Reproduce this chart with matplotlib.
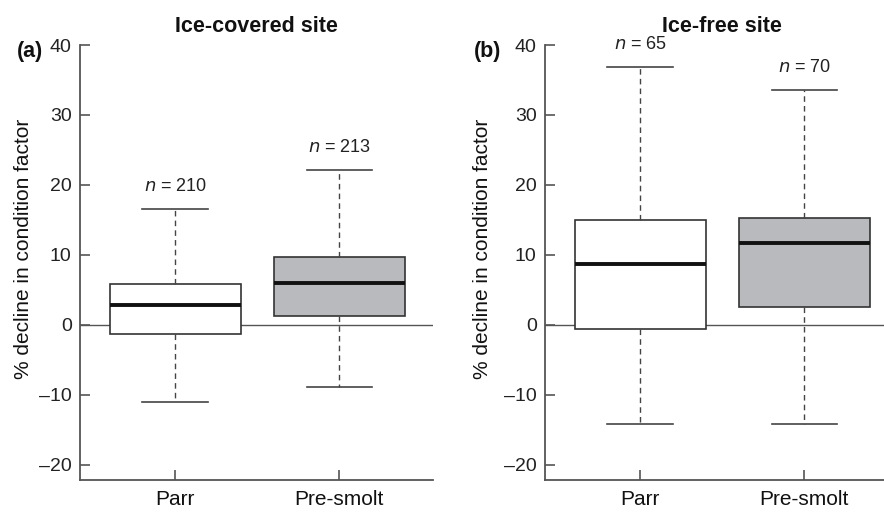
import matplotlib
matplotlib.use("Agg")
import matplotlib.pyplot as plt

plt.rcParams['font.family'] = ['Liberation Sans', 'DejaVu Sans']

categories = ["Parr", "Pre-smolt"]
panel_titles = ["Ice-covered site", "Ice-free site"]
panel_letters = ["(a)", "(b)"]

# Ice-covered site
ice_whislo = [-11.0, -8.8]
ice_q1 = [-1.3, 1.3]
ice_med = [2.8, 6.0]
ice_q3 = [5.9, 9.7]
ice_whishi = [16.5, 22.1]
ice_n = [210, 213]

# Ice-free site
free_whislo = [-14.2, -14.1]
free_q1 = [-0.6, 2.5]
free_med = [8.7, 11.7]
free_q3 = [15.0, 15.3]
free_whishi = [36.9, 33.5]
free_n = [65, 70]

yticks = [-20, -10, 0, 10, 20, 30, 40]
fills = ["white", "#b9babd"]

W, H = 884, 512
fig = plt.figure(figsize=(W / 100, H / 100), dpi=100)

panels = [
    (ice_whislo, ice_q1, ice_med, ice_q3, ice_whishi, ice_n),
    (free_whislo, free_q1, free_med, free_q3, free_whishi, free_n),
]
lefts = [80, 545]
ylab_x = [24, 483]
letter_x = [30, 488]
axw, bottom, top = 353, 480, 45

for i, (wl, q1, med, q3, wh, ns) in enumerate(panels):
    ax = fig.add_axes([lefts[i] / W, (H - bottom) / H, axw / W, (bottom - top) / H])
    stats = []
    for j in range(2):
        stats.append(dict(whislo=wl[j], q1=q1[j], med=med[j], q3=q3[j], whishi=wh[j], fliers=[], label=categories[j]))
    bp = ax.bxp(stats, positions=[1, 2], widths=0.8, patch_artist=True, showfliers=False,
                boxprops=dict(edgecolor="#333333", linewidth=1.2),
                medianprops=dict(color="#111111", linewidth=2.8),
                whiskerprops=dict(color="#444444", linewidth=1.0, linestyle=(0, (4, 3))),
                capprops=dict(color="#444444", linewidth=1.2),
                capwidths=0.4, zorder=3)
    for patch, fc in zip(bp['boxes'], fills):
        patch.set_facecolor(fc)
    ax.axhline(0, color="#555555", linewidth=1.0, zorder=1)
    for j in range(2):
        ax.text(j + 1, wh[j] + 2.0, f"$n$ = {ns[j]}", ha="center", va="bottom", fontsize=13, color="#222222")
    ax.set_xlim(0.42, 2.57)
    ax.set_ylim(-22.15, 40)
    ax.set_yticks(yticks)
    ax.set_yticklabels([f"{t}".replace("-", "\u2013") for t in yticks])
    ax.set_xticks([1, 2])
    ax.set_xticklabels(categories)
    for s in ["top", "right"]:
        ax.spines[s].set_visible(False)
    for s in ["left", "bottom"]:
        ax.spines[s].set_color("#555555")
        ax.spines[s].set_linewidth(1.3)
    ax.tick_params(axis="y", direction="in", length=7.5, width=1.2, color="#555555", labelsize=14, pad=6, labelcolor="#222222")
    ax.tick_params(axis="x", direction="in", length=7.5, width=1.2, color="#555555", labelsize=15, pad=7, labelcolor="#111111")
    ax.text((ylab_x[i] - lefts[i]) / axw, (bottom - 249) / (bottom - top), "% decline in condition factor",
            transform=ax.transAxes, rotation=90, ha="center", va="center", fontsize=15, color="#111111")
    ax.text(0.5, (bottom - 27) / (bottom - top), panel_titles[i], transform=ax.transAxes,
            ha="center", va="center", fontsize=15.5, fontweight="bold", color="#111111")
    ax.patch.set_alpha(0)
    fig.text(letter_x[i] / W, 1 - 52 / H, panel_letters[i], fontsize=15.5, fontweight="bold",
             ha="center", va="center", color="#111111")

fig.savefig("out.png", dpi=100)
